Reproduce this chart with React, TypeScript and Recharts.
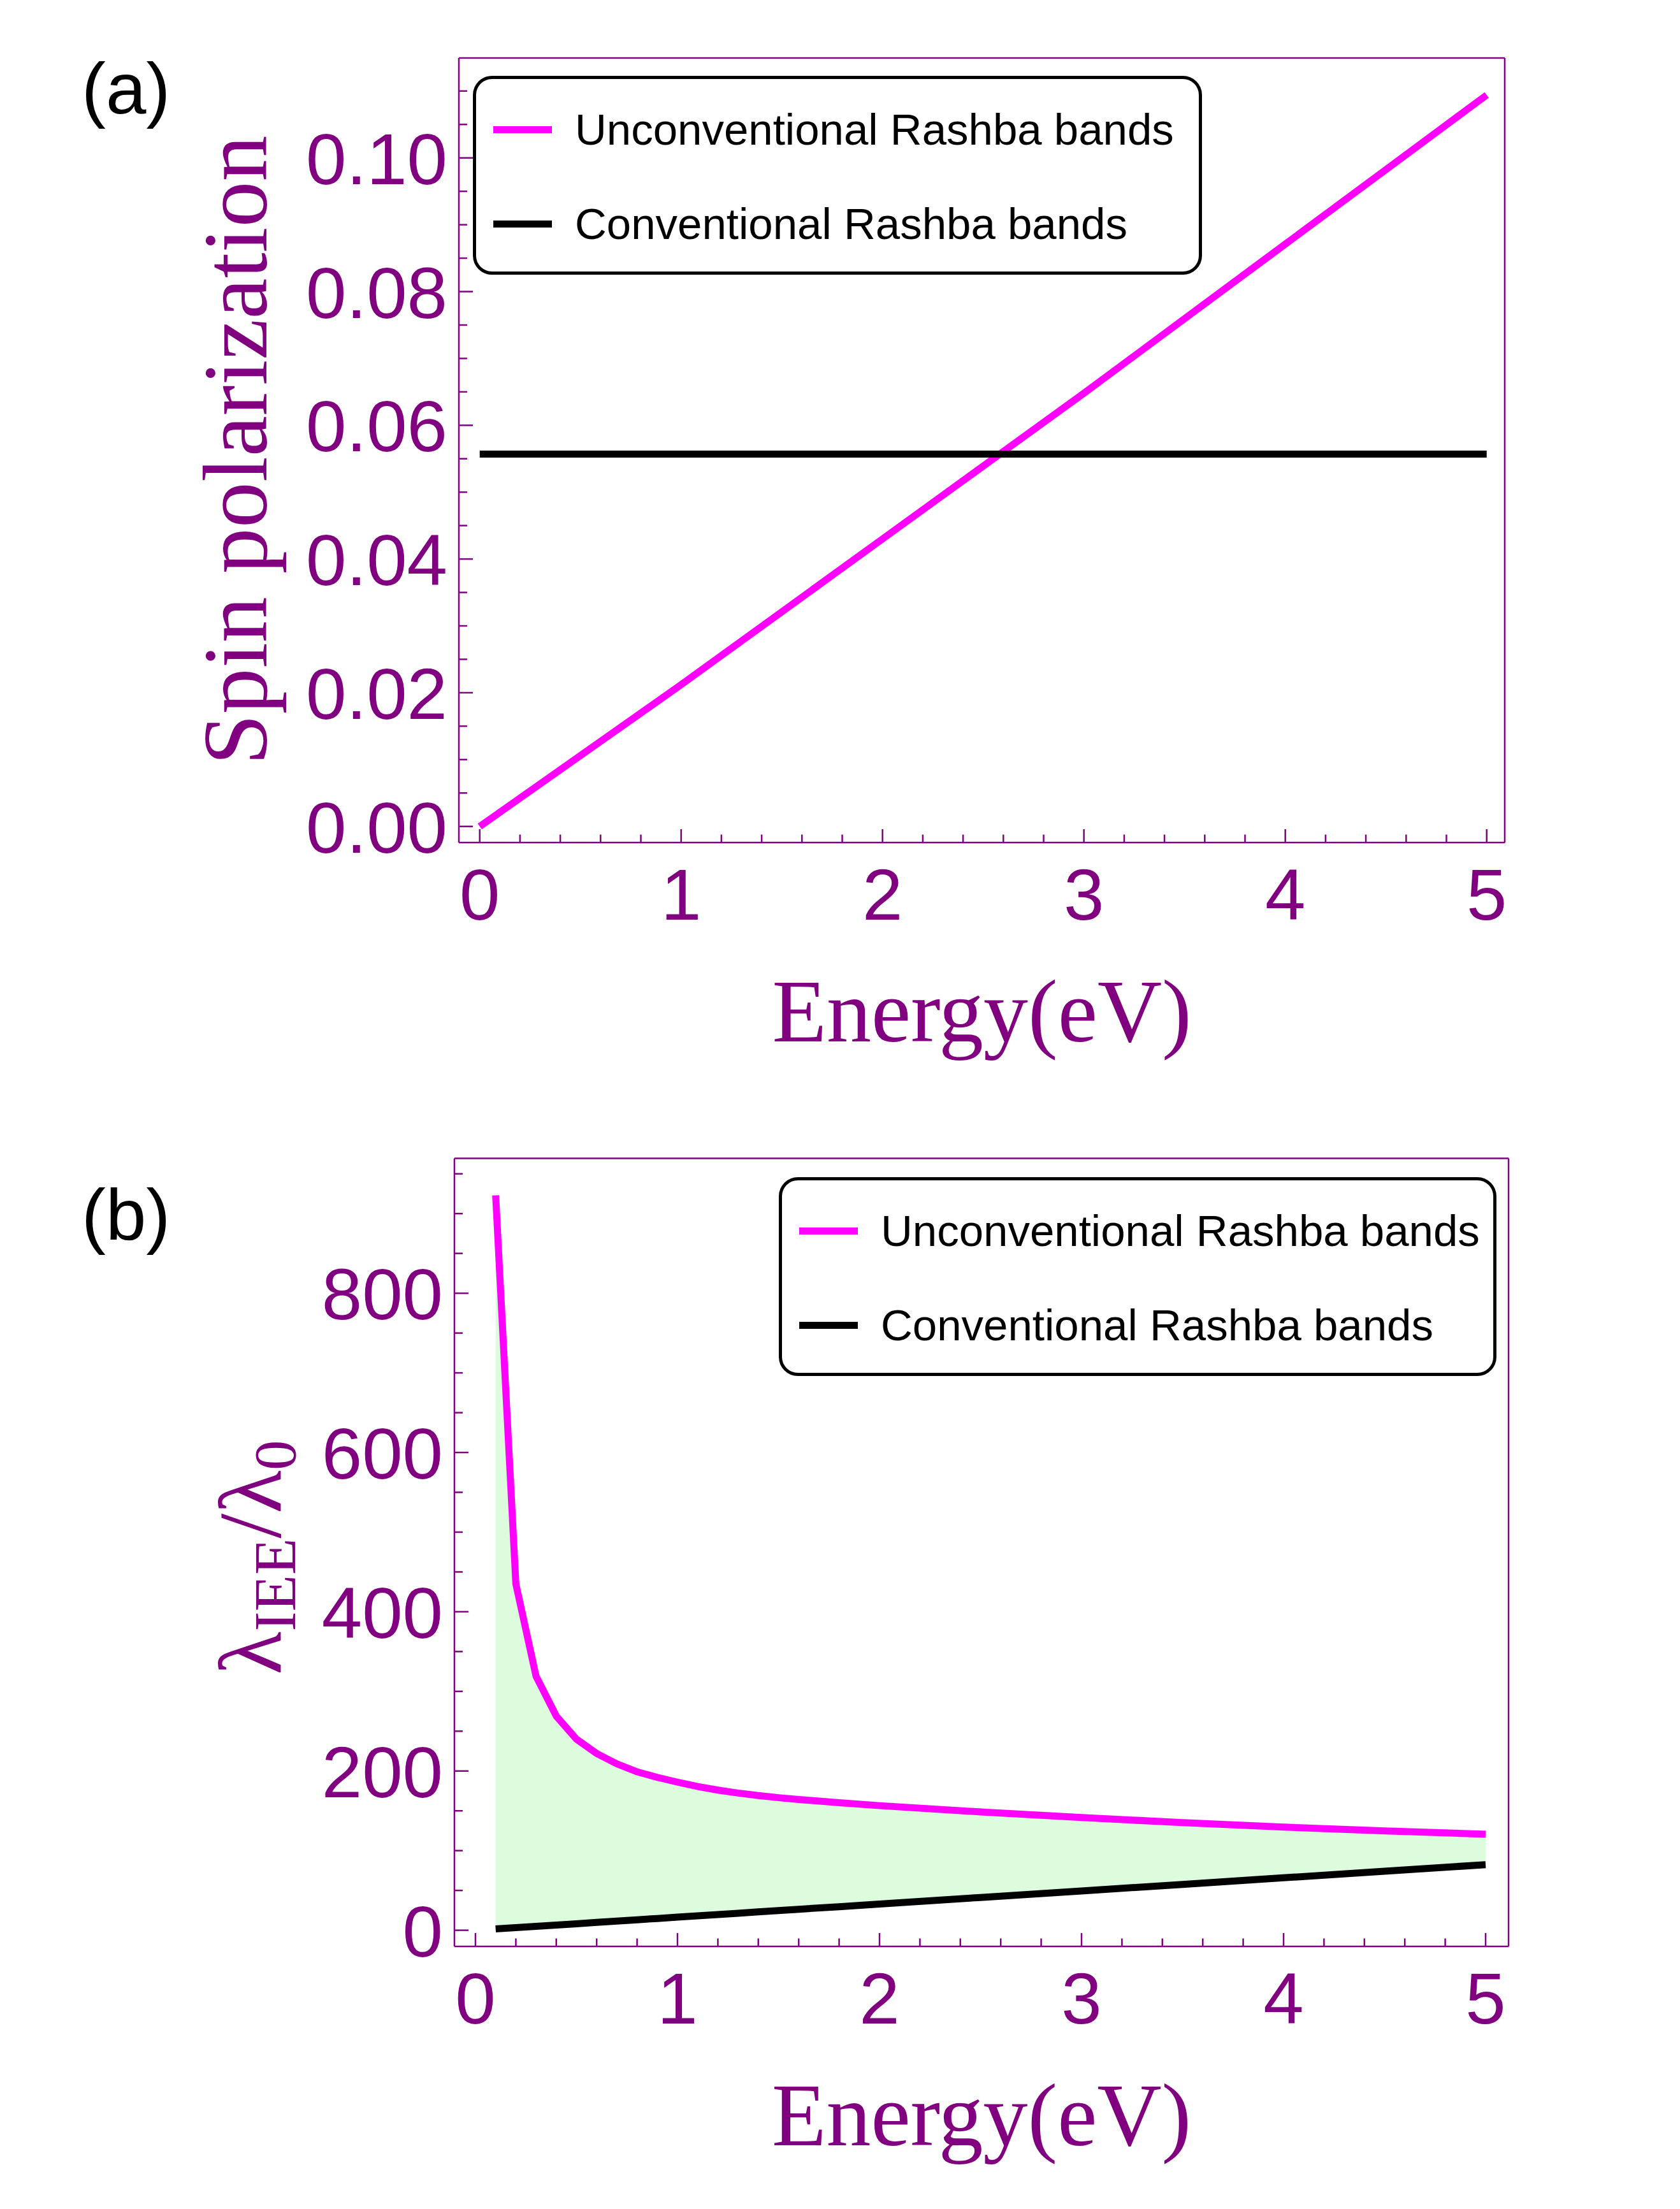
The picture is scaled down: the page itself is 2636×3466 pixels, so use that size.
import React from 'react';
import { ComposedChart, Line, Area, XAxis, YAxis, Legend, Label } from 'recharts';

const PURPLE = '#800080';
const MAGENTA = '#ff00ff';
const FILL = '#ddfcdd';
const SANS = "'Liberation Sans', Arial, sans-serif";
const SERIF = "'Liberation Serif', 'Times New Roman', serif";

// panel (a): spin polarization vs energy
const energyA = [0, 1, 2, 3, 4, 5];
const spinUnconv = [0, 0.0212, 0.043, 0.0648, 0.0871, 0.1094];
const spinConv = [0.0557, 0.0557, 0.0557, 0.0557, 0.0557, 0.0557];

// panel (b): lambda_IEE / lambda_0 vs energy
const energyB = [0.1, 0.2, 0.3, 0.4, 0.5, 0.6, 0.7, 0.8, 0.9, 1.0, 1.1, 1.2, 1.3, 1.4, 1.5, 1.6, 1.8, 2.0, 2.5, 3.0, 3.5, 4.0, 4.5, 5.0];
const lambdaUnconv = [923, 435, 319, 269, 240, 222, 209, 199, 192, 186, 180.5, 176, 172.3, 169.2, 166.5, 164.2, 160.2, 156.5, 148.6, 141.5, 135.2, 129.6, 124.8, 120.6];
const lambdaConv = [1.7, 3.3, 4.9, 6.6, 8.2, 9.9, 11.5, 13.2, 14.8, 16.5, 18.1, 19.8, 21.4, 23.1, 24.7, 26.4, 29.6, 32.9, 41.2, 49.4, 57.6, 65.9, 74.1, 82.4];

const seriesNames = ['Unconventional Rashba bands', 'Conventional Rashba bands'];

// tick labels
const xTickValues = [0, 1, 2, 3, 4, 5];
const xTickLabels = ['0', '1', '2', '3', '4', '5'];
const spinTickValues = [0, 0.02, 0.04, 0.06, 0.08, 0.1];
const spinTickLabels = ['0.00', '0.02', '0.04', '0.06', '0.08', '0.10'];
const lambdaTickValues = [0, 200, 400, 600, 800];
const lambdaTickLabels = ['0', '200', '400', '600', '800'];

const steps = (from: number, to: number, step: number) =>
  Array.from({ length: Math.round((to - from) / step) + 1 }, (_, i) => +(from + i * step).toFixed(6));

const xMinor = steps(0, 5, 0.2);
const spinMinor = steps(0, 0.11, 0.005);
const lambdaMinor = steps(0, 950, 50);

const dataA = energyA.map((e, i) => ({ e, unconv: spinUnconv[i], conv: spinConv[i] }));
const dataB = energyB.map((e, i) => ({
  e,
  unconv: lambdaUnconv[i],
  conv: lambdaConv[i],
  band: [lambdaConv[i], lambdaUnconv[i]],
}));

const findMajor = (values: number[], v: number) => values.findIndex(m => Math.abs(m - v) < 1e-6);

// inward ticks, label only on the major ones
const makeYTick = (values: number[], labels: string[]) => (props: any) => {
  const { x, y, payload } = props;
  const i = findMajor(values, payload.value);
  return (
    <g>
      <line x1={x} x2={x + (i >= 0 ? 22 : 13)} y1={y} y2={y} stroke={PURPLE} strokeWidth={2.5} />
      {i >= 0 && (
        <text x={x - 18} y={y + 41} textAnchor="end" fill={PURPLE} fontSize={114} fontFamily={SANS}>
          {labels[i]}
        </text>
      )}
    </g>
  );
};

const makeXTick = (values: number[], labels: string[]) => (props: any) => {
  const { x, y, payload } = props;
  const i = findMajor(values, payload.value);
  return (
    <g>
      <line x1={x} x2={x} y1={y} y2={y - (i >= 0 ? 21 : 12.5)} stroke={PURPLE} strokeWidth={2.5} />
      {i >= 0 && (
        <text x={x} y={y + 121} textAnchor="middle" fill={PURPLE} fontSize={114} fontFamily={SANS}>
          {labels[i]}
        </text>
      )}
    </g>
  );
};

const LegendBox = ({ payload, width }: { payload?: any[]; width: number }) => {
  const items = (payload || [])
    .filter(p => p.type !== 'none')
    .sort((a, b) => seriesNames.indexOf(a.value) - seriesNames.indexOf(b.value));
  return (
    <div style={{
      boxSizing: 'border-box', position: 'relative', width, height: 312,
      border: '5px solid #000', borderRadius: 30, background: '#fff',
      fontFamily: SANS, fontSize: 69, color: '#000',
    }}>
      {items.map((it, i) => (
        <div key={i} style={{
          position: 'absolute', left: 27, top: 39 + i * 148, height: 80,
          display: 'flex', alignItems: 'center', whiteSpace: 'nowrap',
        }}>
          <span style={{ display: 'inline-block', width: 92, height: 11, background: it.color, marginRight: 36 }} />
          <span>{it.value}</span>
        </div>
      ))}
    </div>
  );
};

const axisLine = { stroke: PURPLE, strokeWidth: 2.5 };

export default function App() {
  return (
    <div style={{ position: 'absolute', left: 0, top: 0, width: 2636, height: 3466, background: '#fff', overflow: 'hidden' }}>
      {/* (a) */}
      <div style={{ position: 'absolute', left: 0, top: 0 }}>
        <ComposedChart width={2636} height={1700} data={dataA} margin={{ top: 90, right: 274, bottom: 377, left: 719 }}>
          <XAxis
            dataKey="e" type="number" domain={[-0.1035, 5.0896]} allowDataOverflow
            ticks={xMinor} interval={0} height={1} tickSize={0} tickMargin={0} tickLine={false}
            axisLine={axisLine} tick={makeXTick(xTickValues, xTickLabels)}
          >
            <Label content={(p: any) => (
              <text x={p.viewBox.x + p.viewBox.width / 2} y={p.viewBox.y + 312} textAnchor="middle"
                fill={PURPLE} fontSize={140} fontFamily={SERIF}>Energy(eV)</text>
            )} />
          </XAxis>
          <XAxis xAxisId="top" orientation="top" type="number" domain={[-0.1035, 5.0896]} allowDataOverflow
            height={1} tick={false} tickLine={false} axisLine={axisLine} />
          <YAxis
            type="number" domain={[-0.00241, 0.11494]} allowDataOverflow
            ticks={spinMinor} interval={0} width={1} tickSize={0} tickMargin={0} tickLine={false}
            axisLine={axisLine} tick={makeYTick(spinTickValues, spinTickLabels)}
          >
            <Label content={(p: any) => {
              const x = p.viewBox.x + p.viewBox.width - 302;
              const y = p.viewBox.y + p.viewBox.height / 2;
              return (
                <g>
                  <text transform={`rotate(-90 ${x} ${y})`} x={x} y={y} textAnchor="middle"
                    fill={PURPLE} fontSize={144} fontFamily={SERIF}>Spin polarization</text>
                  <text x={128} y={178} fill="#000" fontSize={114} fontFamily={SANS}>(a)</text>
                </g>
              );
            }} />
          </YAxis>
          <YAxis yAxisId="right" orientation="right" type="number" domain={[-0.00241, 0.11494]} allowDataOverflow
            width={1} tick={false} tickLine={false} axisLine={axisLine} />
          <Legend layout="horizontal" align="center" verticalAlign="middle"
            wrapperStyle={{ left: 742, top: 119, width: 1144 }}
            content={(p: any) => <LegendBox payload={p.payload} width={1144} />} />
          <Line type="linear" dataKey="unconv" name={seriesNames[0]} stroke={MAGENTA} strokeWidth={11}
            dot={false} activeDot={false} isAnimationActive={false} />
          <Line type="linear" dataKey="conv" name={seriesNames[1]} stroke="#000" strokeWidth={11}
            dot={false} activeDot={false} isAnimationActive={false} />
        </ComposedChart>
      </div>

      {/* (b) */}
      <div style={{ position: 'absolute', left: 0, top: 1700 }}>
        <ComposedChart width={2636} height={1766} data={dataB} margin={{ top: 116.5, right: 268, bottom: 411, left: 712 }}>
          <XAxis
            dataKey="e" type="number" domain={[-0.1041, 5.1136]} allowDataOverflow
            ticks={xMinor} interval={0} height={1} tickSize={0} tickMargin={0} tickLine={false}
            axisLine={axisLine} tick={makeXTick(xTickValues, xTickLabels)}
          >
            <Label content={(p: any) => (
              <text x={p.viewBox.x + p.viewBox.width / 2} y={p.viewBox.y + 312} textAnchor="middle"
                fill={PURPLE} fontSize={140} fontFamily={SERIF}>Energy(eV)</text>
            )} />
          </XAxis>
          <XAxis xAxisId="top" orientation="top" type="number" domain={[-0.1041, 5.1136]} allowDataOverflow
            height={1} tick={false} tickLine={false} axisLine={axisLine} />
          <YAxis
            type="number" domain={[-20.3, 969.4]} allowDataOverflow
            ticks={lambdaMinor} interval={0} width={1} tickSize={0} tickMargin={0} tickLine={false}
            axisLine={axisLine} tick={makeYTick(lambdaTickValues, lambdaTickLabels)}
          >
            <Label content={(p: any) => {
              const x = p.viewBox.x + p.viewBox.width - 273;
              const y = p.viewBox.y + p.viewBox.height / 2 + 8;
              return (
                <g>
                  <text transform={`rotate(-90 ${x} ${y})`} x={x} y={y} textAnchor="middle"
                    fill={PURPLE} fontSize={140} fontFamily={SERIF}>
                    λ<tspan fontSize={94} dy={23}>IEE</tspan>
                    <tspan dy={-23}>/λ</tspan>
                    <tspan fontSize={94} dy={23}>0</tspan>
                  </text>
                  <text x={128} y={245} fill="#000" fontSize={114} fontFamily={SANS}>(b)</text>
                </g>
              );
            }} />
          </YAxis>
          <YAxis yAxisId="right" orientation="right" type="number" domain={[-20.3, 969.4]} allowDataOverflow
            width={1} tick={false} tickLine={false} axisLine={axisLine} />
          <Legend layout="horizontal" align="center" verticalAlign="middle"
            wrapperStyle={{ left: 1222, top: 147, width: 1126 }}
            content={(p: any) => <LegendBox payload={p.payload} width={1126} />} />
          <Area type="linear" dataKey="band" fill={FILL} fillOpacity={1} stroke="none"
            legendType="none" isAnimationActive={false} activeDot={false} />
          <Line type="linear" dataKey="unconv" name={seriesNames[0]} stroke={MAGENTA} strokeWidth={11}
            dot={false} activeDot={false} isAnimationActive={false} />
          <Line type="linear" dataKey="conv" name={seriesNames[1]} stroke="#000" strokeWidth={11}
            dot={false} activeDot={false} isAnimationActive={false} />
        </ComposedChart>
      </div>
    </div>
  );
}
